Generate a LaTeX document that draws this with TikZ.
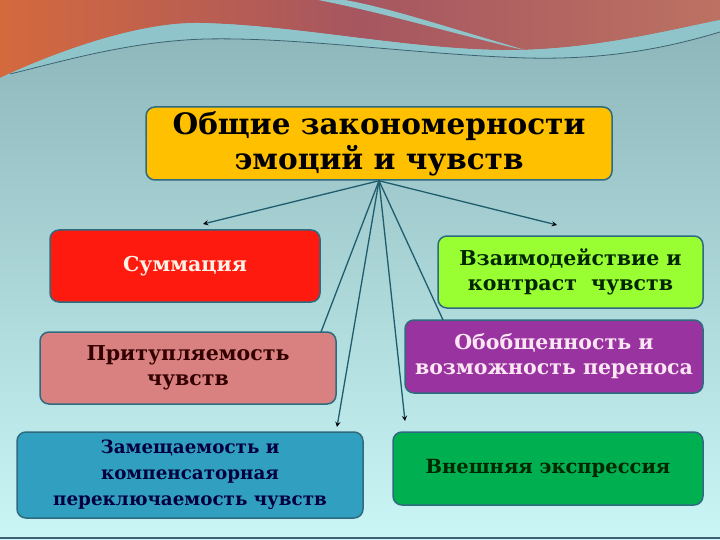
\documentclass[tikz,border=0pt]{standalone}
\usepackage{fontspec}
\setmainfont{DejaVu Serif}
\usetikzlibrary{arrows,positioning}

\definecolor{bgtop}{HTML}{8AB3B7}
\definecolor{bgbot}{HTML}{CAF6F6}
\definecolor{waveleft}{HTML}{D4693E}
\definecolor{wavemid}{HTML}{A65660}
\definecolor{waveright}{HTML}{BC7262}
\definecolor{band}{HTML}{8EC4CA}
\definecolor{bandline}{HTML}{3F6272}
\definecolor{boxline}{HTML}{2E6B7E}
\definecolor{linkcol}{HTML}{1F5D6E}
\definecolor{gold}{HTML}{FFC000}
\definecolor{redbox}{HTML}{FF1A10}
\definecolor{pinkbox}{HTML}{D98080}
\definecolor{bluebox}{HTML}{31A0C0}
\definecolor{limebox}{HTML}{99FF33}
\definecolor{purplebox}{HTML}{9933A0}
\definecolor{greenbox}{HTML}{00B050}

\begin{document}
\begin{tikzpicture}[x=1pt, y=-1pt, >=stealth,
    box/.style={draw=boxline, line width=1.5pt, rounded corners=9pt,
        align=center, inner sep=0pt,
        font=\bfseries\fontsize{20.5}{25}\selectfont},
    link/.style={draw=linkcol, line width=1.3pt}]

    % background and wave
    \useasboundingbox (0,0) rectangle (720,540);
    \shade[top color=bgtop, bottom color=bgbot] (0,0) rectangle (720,540);
    \shade[left color=waveleft, right color=waveright, middle color=wavemid]
        (0,0) -- (0,78)
        .. controls (60,50) and (140,22) .. (200,23)
        .. controls (300,25) and (420,52) .. (520,50)
        .. controls (600,48) and (670,30) .. (720,20) -- (720,0) -- cycle;
    \fill[band]
        (0,78) .. controls (60,50) and (140,22) .. (200,23)
        .. controls (300,25) and (420,52) .. (520,50)
        .. controls (600,48) and (670,30) .. (720,20) -- (720,32)
        .. controls (670,47) and (610,60) .. (528,58)
        .. controls (420,55) and (300,37) .. (206,39)
        .. controls (130,41) and (60,62) .. (0,78) -- cycle;
    \draw[bandline, line width=0.8pt]
        (10,74) .. controls (60,62) and (130,41) .. (206,39)
        .. controls (300,37) and (420,55) .. (528,58)
        .. controls (610,60) and (670,47) .. (720,32);
    \fill[band]
        (318,0) .. controls (380,12) and (440,30) .. (515,48)
        -- (525,50) .. controls (450,28) and (390,8) .. (345,0) -- cycle;
    \draw[bandline, line width=1.2pt] (0,538) -- (720,538);

    % boxes
    \node[box, fill=gold, minimum width=466pt, minimum height=73pt,
        font=\bfseries\fontsize{29.5}{35}\selectfont] (top) at (379,143.5)
        {Общие закономерности\\эмоций и чувств};
    \node[box, fill=redbox, text=white!90!orange, minimum width=270pt,
        minimum height=72pt] (summ) at (185,266) {Суммация};
    \node[box, fill=pinkbox, text=black!80!red, minimum width=296pt,
        minimum height=72pt] (prit) at (188,368) {Притупляемость\\чувств};
    \node[box, fill=bluebox, text=black!75!blue, minimum width=346pt,
        minimum height=86pt, font=\bfseries\fontsize{18.3}{26}\selectfont]
        (zam) at (190,475)
        {Замещаемость и\\компенсаторная\\переключаемость чувств};
    \node[box, fill=limebox, text=black!85!green, minimum width=265pt,
        minimum height=72pt] (vzaim) at (570.5,272)
        {Взаимодействие и\\контраст\ \ чувств};
    \node[box, fill=purplebox, text=white!90!magenta, minimum width=298pt,
        minimum height=73pt] (obob) at (554,356.5)
        {Обобщенность и\\возможность переноса};
    \node[box, fill=greenbox, text=black!85!green, minimum width=310pt,
        minimum height=73pt, font=\bfseries\fontsize{19.5}{25}\selectfont]
        (vnesh) at (548,468.5) {Внешняя экспрессия};

    % connectors
    \coordinate (fan) at (top.south);
    \coordinate (toSumm) at (203,224);
    \coordinate (toVzaim) at (557,225);
    \coordinate (toPrit) at (321,332);
    \coordinate (toZam) at (337,427);
    \coordinate (toVnesh) at (405,421);
    \coordinate (toObob) at (443,320);

    \draw[link]
    (fan) edge[->] (toSumm)
    (fan) edge[->] (toVzaim)
    (fan) edge (toPrit)
    (fan) edge[->] (toZam)
    (fan) edge[->] (toVnesh)
    (fan) edge (toObob);
\end{tikzpicture}
\end{document}
